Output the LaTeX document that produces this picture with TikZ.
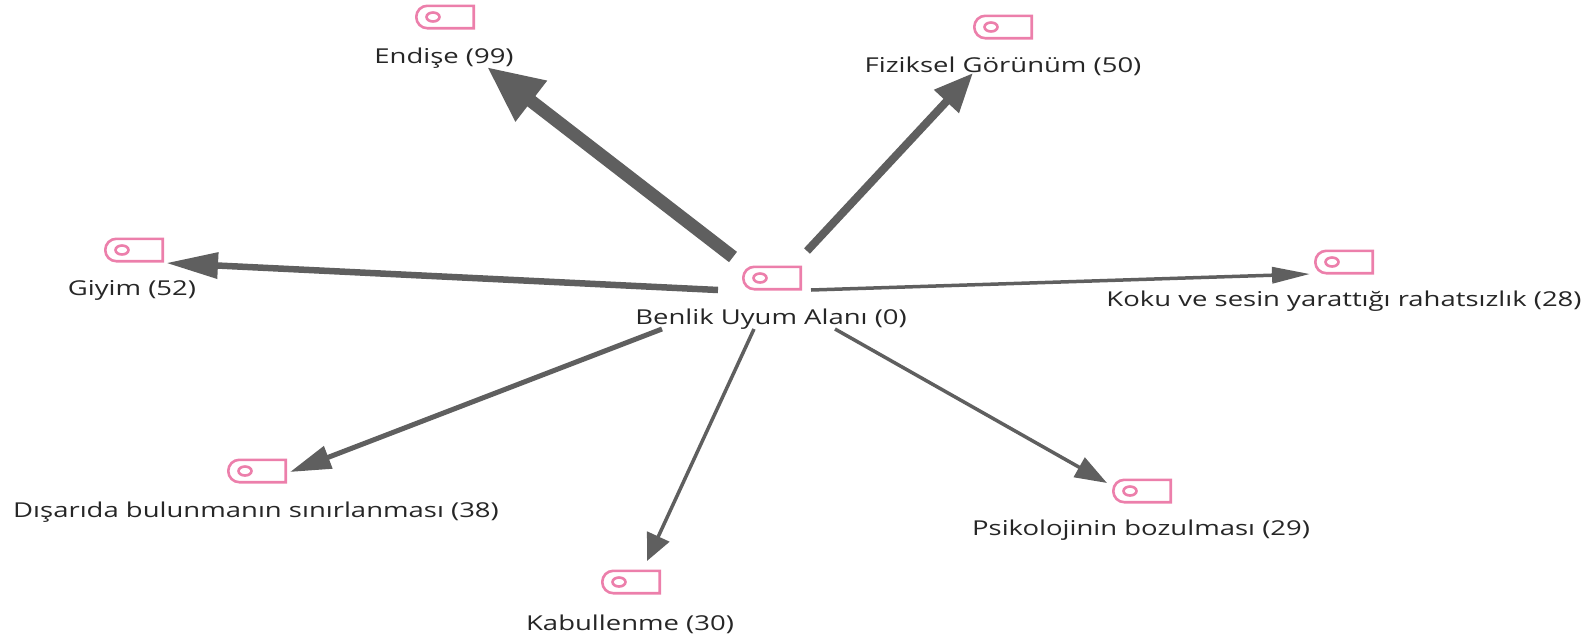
\documentclass[tikz,border=0pt]{standalone}
\usepackage{fontspec}
\setmainfont{Open Sans}
\usetikzlibrary{calc,arrows.meta}
\definecolor{tagpink}{HTML}{EC7FAB}
\definecolor{linkgray}{HTML}{5F5F5F}
\tikzset{
    tagbox/.style={minimum width=57pt,minimum height=22pt,inner sep=0pt},
    tagline/.style={draw=tagpink,line width=2.6pt},
    caption/.style={font=\fontsize{20.5pt}{24pt}\selectfont,text=black!85,inner sep=0pt,xscale=1.34,transform shape},
    link/.style={draw=linkgray,fill=linkgray,line width=#1},
}
\newcommand{\tagicon}[2]{
    \node[tagbox] (#1) at (#2) {};
    \draw[tagline] (#1.north east)--(#1.south east)--(#1.south)[rounded corners=11pt]--(#1.south west)--(#1.north west)[sharp corners]--(#1.north)--(#1.north east)--cycle;
    \draw[tagline] ($(#1)+(-12,0)$) ellipse (6.5pt and 4.5pt);
}
\begin{document}
\begin{tikzpicture}[x=1pt,y=-1pt]
            \useasboundingbox (0,0) rectangle (1596,638);
            \tagicon{benlik}{772,278}
            \tagicon{endise}{445,17}
            \tagicon{fiziksel}{1003,27}
            \tagicon{koku}{1344,262}
            \tagicon{psikoloji}{1142,491}
            \tagicon{kabullenme}{631,582}
            \tagicon{disarida}{257,471}
            \tagicon{giyim}{134,250}
            \node[caption] (benlik_text) at (771,319) {Benlik Uyum Alanı (0)};
            \node[caption] (endise_text) at (444,58) {Endişe (99)};
            \node[caption] (fiziksel_text) at (1003,66) {Fiziksel Görünüm (50)};
            \node[caption] (koku_text) at (1344,301) {Koku ve sesin yarattığı rahatsızlık (28)};
            \node[caption] (psikoloji_text) at (1141,530) {Psikolojinin bozulması (29)};
            \node[caption] (kabullenme_text) at (630,624) {Kabullenme (30)};
            \node[caption] (disarida_text) at (256,512) {Dışarıda bulunmanın sınırlanması (38)};
            \node[caption] (giyim_text) at (132,290) {Giyim (52)};
            \draw[link=13pt,-{Triangle[length=56pt,width=48pt]}] ($(benlik)+(-39,-21)$)--($(endise)+(42,50)$);
            \draw[link=8pt,-{Triangle[length=39pt,width=32pt]}] ($(benlik)+(35,-27)$)--($(fiziksel)+(-30,46)$);
            \draw[link=6.5pt,-{Triangle[length=52pt,width=25pt]}] ($(benlik)+(-54,12)$)--($(giyim)+(32,13)$);
            \draw[link=3.5pt,-{Triangle[length=38pt,width=16pt]}] ($(benlik)+(39,12)$)--($(koku)+(-34,12)$);
            \draw[link=3.5pt,-{Triangle[length=32pt,width=22pt]}] ($(benlik)+(63,51)$)--($(psikoloji)+(-35,-8)$);
            \draw[link=3.5pt,-{Triangle[length=27pt,width=24pt]}] ($(benlik)+(-18,51)$)--($(kabullenme)+(16,-21)$);
            \draw[link=5pt,-{Triangle[length=41pt,width=23pt]}] ($(benlik)+(-110,51)$)--($(disarida)+(33,1)$);
    \end{tikzpicture}
\end{document}
